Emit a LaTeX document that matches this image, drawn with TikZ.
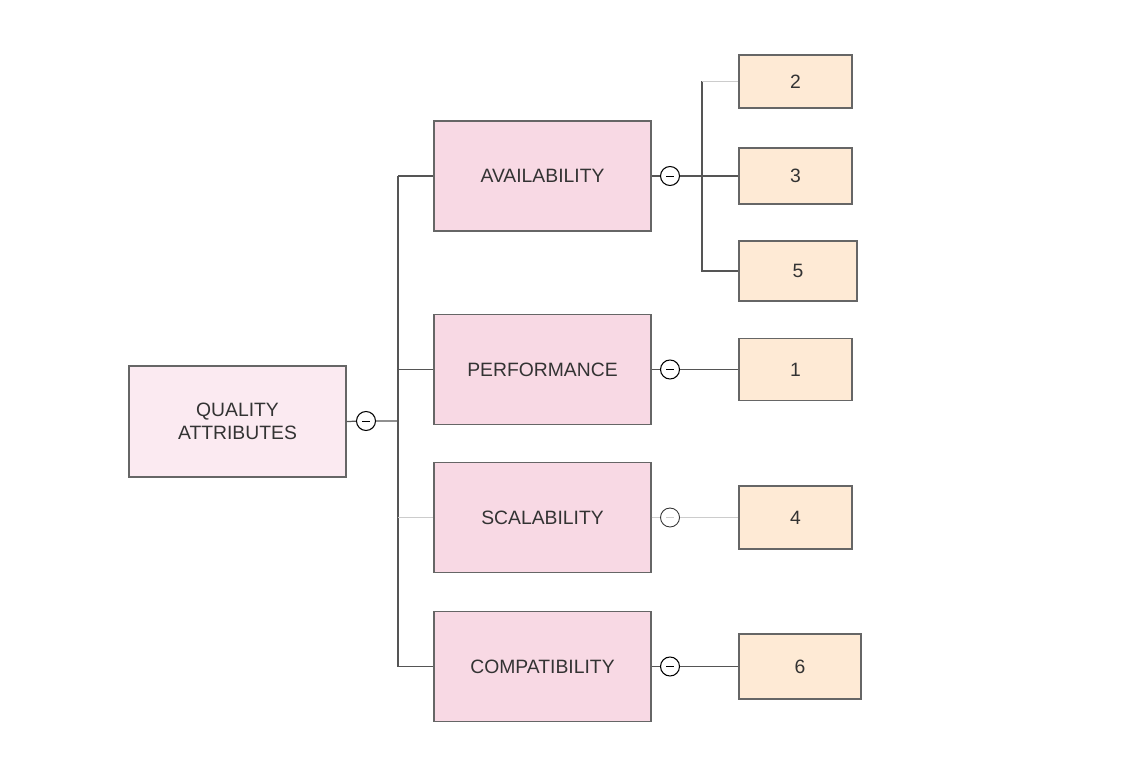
\documentclass[tikz,border=0pt]{standalone}
\usepackage{fontspec}
\setmainfont{Liberation Sans}
\definecolor{rootpink}{HTML}{FBEAF1}
\definecolor{attrpink}{HTML}{F8D9E4}
\definecolor{leaforange}{HTML}{FEEAD5}
\definecolor{edge}{HTML}{666666}
\definecolor{wire}{HTML}{555555}
\definecolor{faint}{HTML}{CCCCCC}
\definecolor{ink}{HTML}{333333}

\begin{document}
\begin{tikzpicture}[x=0.02cm, y=-0.02cm,
  font=\fontsize{11}{13}\selectfont, text=ink,
  box/.style={draw=edge, line width=0.7pt, align=center, inner sep=0pt},
  rootbox/.style={box, fill=rootpink, minimum width=4.34cm, minimum height=2.22cm},
  attrbox/.style={box, fill=attrpink, minimum width=4.34cm, minimum height=2.2cm},
  leafbox/.style={box, fill=leaforange, minimum width=2.26cm},
  knob/.style={circle, draw=black, line width=0.6pt, fill=white, minimum size=0.38cm, inner sep=0pt,
    path picture={\draw[line width=0.5pt] ([xshift=-0.08cm]path picture bounding box.center) -- ([xshift=0.08cm]path picture bounding box.center);}},
  wire/.style={draw=wire, line width=0.7pt}]
\useasboundingbox (0,0) rectangle (1145,780);
% Root
\node[rootbox] (root) at (237.5,421.5) {QUALITY\\ATTRIBUTES};
% Attributes
\node[attrbox] (avail)  at (542.5,176)   {AVAILABILITY};
\node[attrbox] (perf)   at (542.5,369.5) {PERFORMANCE};
\node[attrbox] (scal)   at (542.5,517.5) {SCALABILITY};
\node[attrbox] (compat) at (542.5,666.5) {COMPATIBILITY};
% Leaves
\node[leafbox, minimum height=1.06cm] (l2) at (795.5,81.5) {2};
\node[leafbox, minimum height=1.12cm] (l3) at (795.5,176)  {3};
\node[leafbox, minimum height=1.2cm, minimum width=2.36cm] (l5) at (798,271) {5};
\node[leafbox, minimum height=1.24cm] (l1) at (795.5,369.5)  {1};
\node[leafbox, minimum height=1.26cm] (l4) at (795.5,517.5) {4};
\node[leafbox, minimum height=1.3cm, minimum width=2.44cm] (l6) at (800,666.5) {6};
% Trunks
\coordinate (t0) at (398,421);
\coordinate (ttop) at (398,176);
\coordinate (tbot) at (398,666.5);
\coordinate (s0) at (702,176);
\coordinate (stop) at (702,81.5);
\coordinate (sbot) at (702,271);
% Knobs
\node[knob] (k0) at (366,421) {};
\node[knob] (kavail)  at (670,176) {};
\node[knob] (kperf)   at (670,369.5) {};
\node[knob] (kcompat) at (670,666.5) {};
\node[knob, draw=ink, line width=0.5pt, path picture={\draw[faint, line width=0.5pt] ([xshift=-0.08cm]path picture bounding box.center) -- ([xshift=0.08cm]path picture bounding box.center);}] (kscal) at (670,517.5) {};
% Root to attributes
\draw[wire] (root.east) -- (k0) -- (t0);
\draw[wire] (ttop) -- (tbot);
\foreach \n in {avail,perf,compat}
  \draw[wire] (\n.west -| t0) -- (\n.west);
\draw[faint, line width=0.7pt] (scal.west -| t0) -- (scal.west);
% Attributes to leaves
\foreach \n in {avail,perf,compat}
  \draw[wire] (\n.east) -- (k\n);
\draw[faint, line width=0.7pt] (scal.east) -- (kscal) -- (l4.west);
\draw[wire] (kavail) -- (s0) -- (l3.west);
\draw[wire] (stop) -- (sbot) -- (l5.west);
\draw[faint, line width=0.7pt] (stop) -- (l2.west);
\draw[wire] (kperf) -- (l1.west);
\draw[wire] (kcompat) -- (l6.west);
\end{tikzpicture}
\end{document}
